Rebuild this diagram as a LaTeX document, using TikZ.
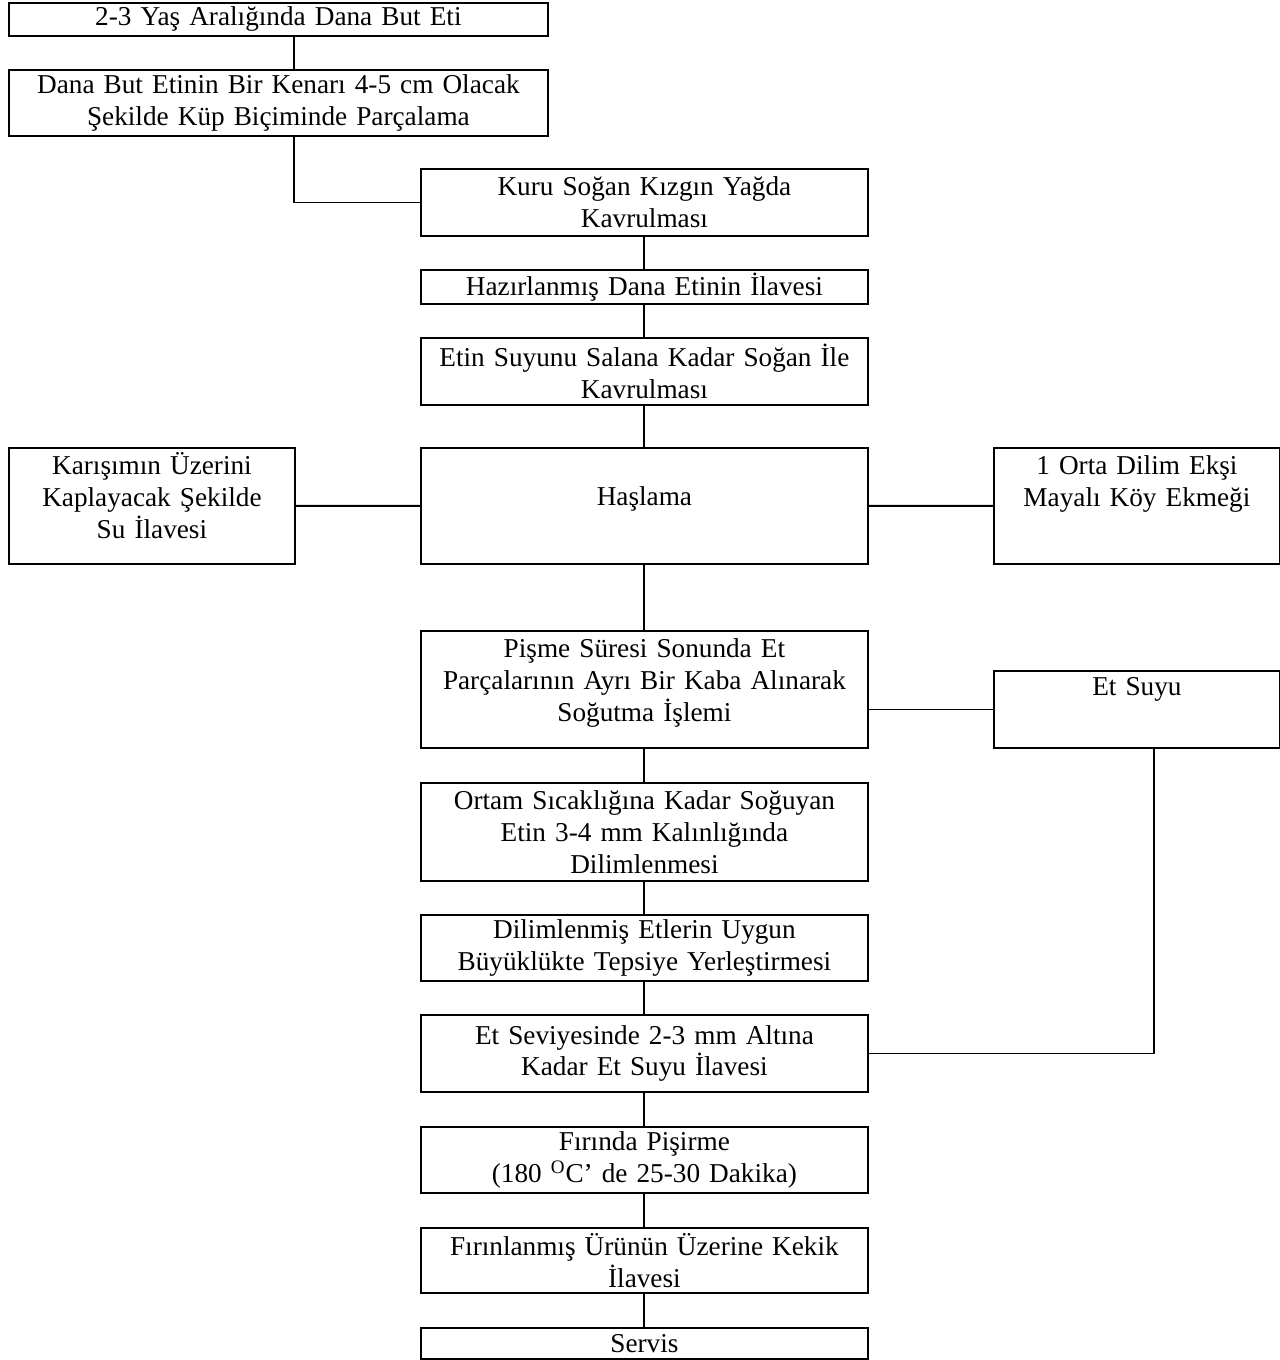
\documentclass[tikz,border=0pt]{standalone}
\usepackage{fontspec}
\setmainfont{Liberation Serif}

\tikzset{
    adim/.style={draw, line width=1.1pt, inner sep=0pt, anchor=north west, align=center,
        font=\fontsize{15.5}{18.1}\selectfont},
    genis/.style={adim, minimum width=10.78cm, text width=10.58cm},
    orta/.style={adim, minimum width=8.94cm, text width=8.74cm},
    yan/.style={adim, minimum width=5.72cm, text width=5.52cm},
    hat/.style={line width=1.1pt}
}

\begin{document}
\begin{tikzpicture}[x=0.02cm, y=-0.02cm]
    \useasboundingbox (0,0) rectangle (1279,1360);

    % Ana akis
    \node[genis, minimum height=0.66cm] (bas) at (8,2) {2-3 Yaş Aralığında Dana But Eti};
    \node[genis, minimum height=1.32cm] (parca) at (8,69) {Dana But Etinin Bir Kenarı 4-5 cm Olacak\\Şekilde Küp Biçiminde Parçalama};
    \node[orta, minimum height=1.34cm] (sogan) at (420,168) {Kuru Soğan Kızgın Yağda\\Kavrulması};
    \node[orta, minimum height=0.68cm] (ilave) at (420,269) {Hazırlanmış Dana Etinin İlavesi};
    \node[orta, minimum height=1.34cm] (kavur) at (420,337) {Etin Suyunu Salana Kadar Soğan İle\\Kavrulması};
    \node[orta, minimum height=2.32cm, text depth=0.40cm] (hasla) at (420,447) {Haşlama};
    \node[orta, text height=0.54cm, text depth=1.80cm] (sogut) at (420,630) {Pişme Süresi Sonunda Et\\Parçalarının Ayrı Bir Kaba Alınarak\\Soğutma İşlemi};
    \node[orta, minimum height=1.96cm] (dilim) at (420,782) {Ortam Sıcaklığına Kadar Soğuyan\\Etin 3-4 mm Kalınlığında\\Dilimlenmesi};
    \node[orta, minimum height=1.32cm] (tepsi) at (420,914) {Dilimlenmiş Etlerin Uygun\\Büyüklükte Tepsiye Yerleştirmesi};
    \node[orta, minimum height=1.54cm] (suyu) at (420,1014) {Et Seviyesinde 2-3  mm Altına\\Kadar Et Suyu İlavesi};
    \node[orta, minimum height=1.32cm] (firin) at (420,1126) {Fırında Pişirme\\(180 \textsuperscript{O}C’ de 25-30 Dakika)};
    \node[orta, minimum height=1.30cm] (kekik) at (420,1227) {Fırınlanmış Ürünün Üzerine Kekik\\İlavesi};
    \node[orta, minimum height=0.62cm] (servis) at (420,1327) {Servis};

    % Yan kutular
    \node[yan, text height=0.54cm, text depth=1.78cm] (su) at (8,447) {Karışımın Üzerini\\Kaplayacak Şekilde\\Su İlavesi};
    \node[yan, text height=0.54cm, text depth=1.78cm] (ekmek) at (993,447) {1 Orta Dilim Ekşi\\Mayalı Köy Ekmeği};
    \node[yan, minimum height=1.54cm, text depth=0.92cm] (etsuyu) at (993,670) {Et Suyu};

    % Baglantilar
    \coordinate (k1) at (294,0);
    \coordinate (k2) at (1154,0);
    \draw[hat] (bas.south -| k1) -- (parca.north -| k1);
    \draw[hat] (parca.south -| k1) |- (sogan.west);
    \draw[hat] (sogan) -- (ilave) -- (kavur) -- (hasla) -- (sogut) -- (dilim) -- (tepsi) -- (suyu) -- (firin) -- (kekik) -- (servis);
    \draw[hat] (su.east) -- (hasla.west);
    \draw[hat] (hasla.east) -- (ekmek.west);
    \draw[hat] (sogut.east |- etsuyu.west) -- (etsuyu.west);
    \draw[hat] (etsuyu.south -| k2) |- (suyu.east);
\end{tikzpicture}
\end{document}
